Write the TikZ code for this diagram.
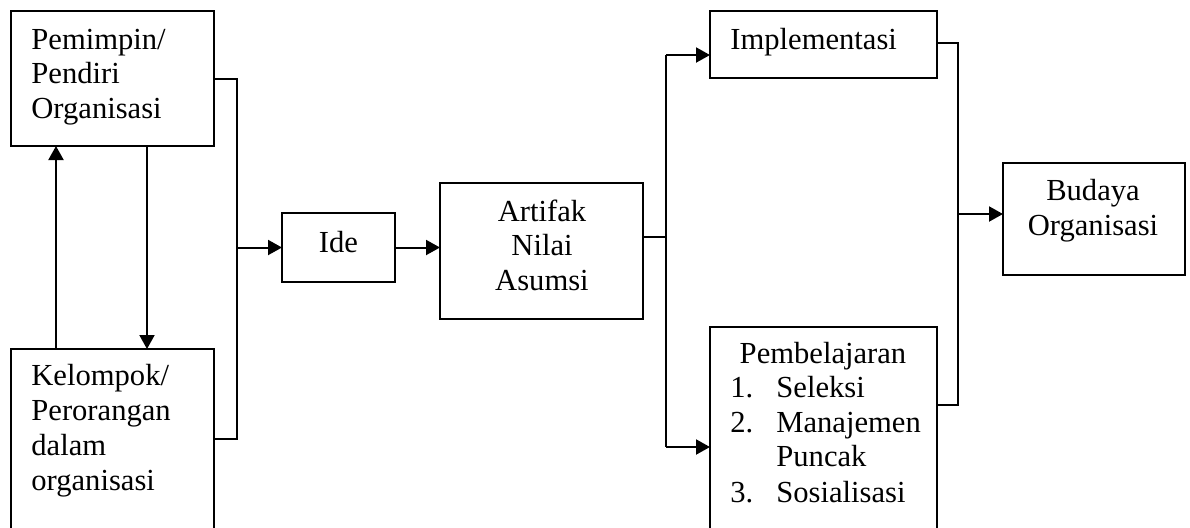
\documentclass[tikz,border=0pt]{standalone}
\usepackage{fontspec}
\setmainfont{Liberation Serif}
\usetikzlibrary{arrows.meta}
\begin{document}
\begin{tikzpicture}[x=0.5pt,y=-0.5pt,
  box/.style={draw,line width=1pt,inner sep=0pt,outer sep=0pt},
  txt/.style={inner sep=0pt,font=\fontsize{15.3}{17.25}\selectfont},
  conn/.style={line width=1pt},
  arr/.style={line width=1pt,-{Triangle[length=7pt,width=7.5pt]}}]
\useasboundingbox (0,0) rectangle (1190,527);
% boxes
\node[box,minimum width=101.5pt,minimum height=67.5pt] (pem) at (112.5,78.5) {};
\node[box,minimum width=101.5pt,minimum height=90pt] (kel) at (112.5,439) {};
\node[box,minimum width=56.5pt,minimum height=34.5pt] (ide) at (338.5,247.5) {};
\node[box,minimum width=101.5pt,minimum height=68pt] (art) at (541.5,251) {};
\node[box,minimum width=113.5pt,minimum height=33.5pt] (imp) at (823.5,44.5) {};
\node[box,minimum width=113.5pt,minimum height=106.5pt] (pb) at (823.5,433.5) {};
\node[box,minimum width=91pt,minimum height=56pt] (bud) at (1094,219) {};
% texts
\node[txt,anchor=base west] (t1) at (31,49) {Pemimpin/};
\node[txt,anchor=base west] (t2) at (31,83.5) {Pendiri};
\node[txt,anchor=base west] (t3) at (31,118) {Organisasi};
\node[txt,anchor=base west] (t4) at (31,385) {Kelompok/};
\node[txt,anchor=base west] (t5) at (31,420) {Perorangan};
\node[txt,anchor=base west] (t6) at (31,455) {dalam};
\node[txt,anchor=base west] (t7) at (31,490) {organisasi};
\node[txt,anchor=base] (t8) at (338.5,252) {Ide};
\node[txt,anchor=base] (t9) at (542,221) {Artifak};
\node[txt,anchor=base] (t10) at (542,255.5) {Nilai};
\node[txt,anchor=base] (t11) at (542,290) {Asumsi};
\node[txt,anchor=base west] (t12) at (730,49) {Implementasi};
\node[txt,anchor=base] (t13) at (823,363) {Pembelajaran};
\node[txt,anchor=base west] (n1) at (730,397) {1.};
\node[txt,anchor=base west] (t14) at (776,397) {Seleksi};
\node[txt,anchor=base west] (n2) at (730,432) {2.};
\node[txt,anchor=base west] (t15) at (776,432) {Manajemen};
\node[txt,anchor=base west] (t16) at (776,466.5) {Puncak};
\node[txt,anchor=base west] (n3) at (730,502) {3.};
\node[txt,anchor=base west] (t17) at (776,502) {Sosialisasi};
\node[txt,anchor=base] (t18) at (1093,200) {Budaya};
\node[txt,anchor=base] (t19) at (1093,235) {Organisasi};
% helper coordinates
\coordinate (upx) at (56,0);
\coordinate (dnx) at (147,0);
\coordinate (busL) at (237,0);
\coordinate (busM) at (666,0);
\coordinate (busR) at (958,0);
\coordinate (oy) at (0,237);
\coordinate (impIn) at (0,55);
\coordinate (pbIn) at (0,447);
\coordinate (ry1) at (0,43);
\coordinate (ry2) at (0,405);
\coordinate (budIn) at (0,214);
% connectors
\draw[arr] (kel.north -| upx) -- (pem.south -| upx);
\draw[arr] (pem.south -| dnx) -- (kel.north -| dnx);
\draw[conn] (pem.east) -| (busL |- kel.east) -- (kel.east);
\draw[arr] (busL |- ide.west) -- (ide.west);
\draw[arr] (ide.east) -- (art.west |- ide.east);
\draw[conn] (art.east |- oy) -- (busM |- oy);
\draw[conn] (busM |- impIn) -- (busM |- pbIn);
\draw[arr] (busM |- impIn) -- (imp.west |- impIn);
\draw[arr] (busM |- pbIn) -- (pb.west |- pbIn);
\draw[conn] (imp.east |- ry1) -| (busR |- ry2) -- (pb.east |- ry2);
\draw[arr] (busR |- budIn) -- (bud.west |- budIn);
\end{tikzpicture}
\end{document}
